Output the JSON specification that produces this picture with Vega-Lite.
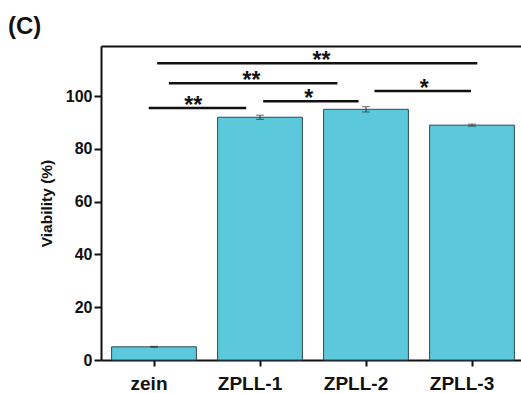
{
  "$schema": "https://vega.github.io/schema/vega-lite/v6.json",
  "width": 424,
  "height": 314,
  "autosize": {"type": "none"},
  "padding": {"left": 101, "top": 46, "right": 0, "bottom": 33},
  "background": "white",
  "config": {"view": {"stroke": null}, "font": "Liberation Sans"},
  "title": {"text": "(C)", "anchor": "start", "frame": "group", "dx": -93, "offset": 7, "fontSize": 24, "fontWeight": "bold", "color": "#111"},
  "datasets": {
    "bars": [
      {"group": "zein", "viability": 5, "lo": 4.8, "hi": 5.2},
      {"group": "ZPLL-1", "viability": 92, "lo": 91.2, "hi": 92.8},
      {"group": "ZPLL-2", "viability": 95, "lo": 94.0, "hi": 96.0},
      {"group": "ZPLL-3", "viability": 89, "lo": 88.6, "hi": 89.4}
    ],
    "sig": [
      {"x1": 0.45, "x2": 1.37, "y": 95.5, "xt": 0.87, "label": "**"},
      {"x1": 1.53, "x2": 2.43, "y": 98.1, "xt": 1.96, "label": "*"},
      {"x1": 0.64, "x2": 2.23, "y": 104.9, "xt": 1.42, "label": "**"},
      {"x1": 2.58, "x2": 3.49, "y": 101.9, "xt": 3.05, "label": "*"},
      {"x1": 0.53, "x2": 3.55, "y": 112.5, "xt": 2.08, "label": "**"}
    ]
  },
  "layer": [
    {
      "data": {"name": "bars"},
      "layer": [
        {
          "mark": {"type": "bar", "color": "#5BC8DB", "stroke": "#2E4A55", "strokeWidth": 1},
          "encoding": {
            "x": {"field": "group", "type": "nominal", "sort": null,
              "scale": {"paddingInner": 0.2, "paddingOuter": 0.1},
              "axis": {"title": null, "labelAngle": 0, "labelFontSize": 19, "labelFontWeight": "bold", "labelColor": "#111", "domainColor": "#111", "domainWidth": 2, "tickColor": "#111", "tickWidth": 2, "tickSize": 6, "labelPadding": 8,
                "labelOffset": {"expr": "datum.value === 'zein' ? -5 : -10"}}},
            "y": {"field": "viability", "type": "quantitative", "title": "Viability (%)",
              "scale": {"domain": [0, 119], "nice": false},
              "axis": {"title": "Viability (%)", "titleFontSize": 15.5, "titleFontWeight": "bold", "titleColor": "#111", "titlePadding": 11,
                "values": [0, 10, 20, 30, 40, 50, 60, 70, 80, 90, 100, 110],
                "labelExpr": "datum.value % 20 === 0 ? datum.label : ''",
                "tickSize": {"expr": "datum.value % 20 === 0 ? 7 : 4"},
                "labelFontSize": 16, "labelFontWeight": "bold", "labelColor": "#111", "domainColor": "#111", "domainWidth": 2, "tickColor": "#111", "tickWidth": 2, "grid": false, "labelPadding": 2}}
          }
        },
        {
          "mark": {"type": "errorbar", "ticks": {"size": 8, "color": "#333"}, "rule": {"color": "#333"}},
          "encoding": {
            "x": {"field": "group", "type": "nominal", "sort": null},
            "y": {"field": "lo", "type": "quantitative", "title": "Viability (%)"},
            "y2": {"field": "hi"}
          }
        }
      ]
    },
    {
      "data": {"name": "sig"},
      "layer": [
        {
          "mark": {"type": "rule", "color": "#111", "strokeWidth": 2.5},
          "encoding": {
            "x": {"field": "x1", "type": "quantitative", "scale": {"domain": [0, 4], "nice": false},
              "axis": {"orient": "top", "title": null, "labels": false, "ticks": false, "grid": false, "domainColor": "#111", "domainWidth": 2}},
            "x2": {"field": "x2"},
            "y": {"field": "y", "type": "quantitative"}
          }
        },
        {
          "mark": {"type": "text", "fontSize": 23, "fontWeight": "bold", "color": "#111", "baseline": "alphabetic", "dy": 5},
          "encoding": {
            "x": {"field": "xt", "type": "quantitative"},
            "y": {"field": "y", "type": "quantitative"},
            "text": {"field": "label"}
          }
        }
      ]
    }
  ],
  "resolve": {"scale": {"x": "independent"}}
}
